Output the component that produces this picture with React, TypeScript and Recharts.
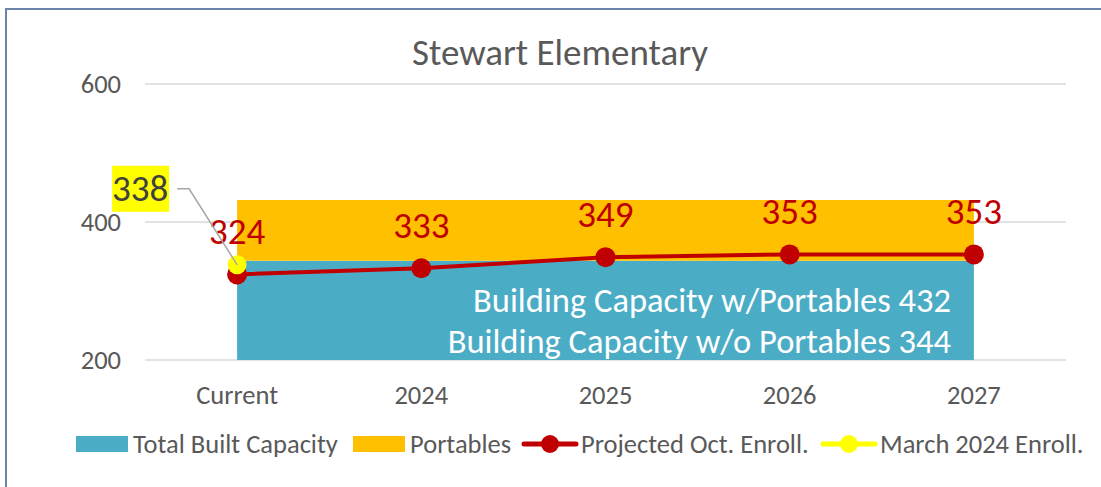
import React from 'react';
import { ComposedChart, Area, Line, XAxis, YAxis, CartesianGrid, LabelList } from 'recharts';

const categories = ['Current', '2024', '2025', '2026', '2027'];
const builtCapacity = [344, 344, 344, 344, 344];
const portables = [88, 88, 88, 88, 88];
const projectedEnroll = [324, 333, 349, 353, 353];
const marchEnroll: (number | null)[] = [338, null, null, null, null];
const yTicks = [200, 400, 600];

const title = 'Stewart Elementary';
const capacityNotes = ['Building Capacity w/Portables 432', 'Building Capacity w/o Portables 344'];

const FONT = "Carlito, Calibri, 'Liberation Sans', Arial, sans-serif";
const TEAL = '#4BACC6';
const GOLD = '#FFC000';
const RED = '#C00000';
const YELLOW = '#FFFF00';
const GRAY = '#595959';

const data = categories.map((c, i) => ({
  cat: c,
  built: builtCapacity[i],
  port: portables[i],
  proj: projectedEnroll[i],
  march: marchEnroll[i],
}));

const ProjLabel = (props: any) => {
  const { x, y, value } = props;
  if (value == null) return null;
  return (
    <text x={x} y={y - 43} textAnchor="middle" dominantBaseline="central" fill={RED} fontSize={37} fontFamily={FONT}>
      {value}
    </text>
  );
};

const MarchLabel = (props: any) => {
  const { x, y, value } = props;
  if (value == null) return null;
  const cx = x - 97;
  const cy = y - 76;
  return (
    <g>
      <polyline points={`${x - 60},${cy} ${x - 48},${cy} ${x},${y}`} fill="none" stroke="#A6A6A6" strokeWidth={1.5} />
      <rect x={x - 125} y={y - 99} width={57} height={46} fill={YELLOW} />
      <text x={cx} y={cy} textAnchor="middle" dominantBaseline="central" fill="#404040" fontSize={37} fontFamily={FONT}>
        {value}
      </text>
    </g>
  );
};

const legendItems = [
  { label: 'Total Built Capacity', type: 'rect', color: TEAL, left: 76 },
  { label: 'Portables', type: 'rect', color: GOLD, left: 353 },
  { label: 'Projected Oct. Enroll.', type: 'line', color: RED, left: 521 },
  { label: 'March 2024 Enroll.', type: 'line', color: YELLOW, left: 820 },
];

export default function App() {
  return (
    <div style={{ position: 'absolute', left: 0, top: 0, width: 1101, height: 487, background: '#fff', overflow: 'hidden', fontFamily: FONT }}>
      <div style={{ position: 'absolute', left: 5, top: 8, width: 1200, height: 600, borderLeft: '2px solid #6A84AA', borderTop: '2px solid #6A84AA' }} />
      <div style={{ position: 'absolute', left: 0, top: 0 }}>
        <ComposedChart width={1101} height={487} data={data} margin={{ top: 84, right: 35, left: 0, bottom: 97 }}>
          <CartesianGrid horizontal vertical={false} stroke="#D9D9D9" strokeWidth={1.5} />
          <XAxis dataKey="cat" scale="band" axisLine={false} tickLine={false} tickSize={0} tickMargin={25} height={30}
            tick={{ fill: GRAY, fontSize: 26.5, fontFamily: FONT }} />
          <YAxis domain={[200, 600]} ticks={yTicks} allowDataOverflow axisLine={false} tickLine={false} tickSize={0}
            tickMargin={24} width={145} tick={{ fill: GRAY, fontSize: 26.5, fontFamily: FONT }} />
          <Area dataKey="built" stackId="cap" type="linear" stroke="none" fill={TEAL} fillOpacity={1} isAnimationActive={false} />
          <Area dataKey="port" stackId="cap" type="linear" stroke="none" fill={GOLD} fillOpacity={1} isAnimationActive={false} />
          <Line dataKey="proj" type="linear" stroke={RED} strokeWidth={4} isAnimationActive={false}
            dot={{ r: 10, fill: RED, stroke: 'none' }} activeDot={false}>
            <LabelList dataKey="proj" content={ProjLabel} />
          </Line>
          <Line dataKey="march" type="linear" stroke={YELLOW} strokeWidth={4} isAnimationActive={false}
            dot={{ r: 9.5, fill: YELLOW, stroke: 'none' }} activeDot={false}>
            <LabelList dataKey="march" content={MarchLabel} />
          </Line>
        </ComposedChart>
      </div>
      <svg width={1101} height={487} style={{ position: 'absolute', left: 0, top: 0, pointerEvents: 'none' }}>
        <text x={560} y={52} textAnchor="middle" dominantBaseline="central" fill={GRAY} fontSize={37} fontFamily={FONT}>{title}</text>
        <text x={951} y={300} textAnchor="end" dominantBaseline="central" fill="#FFFFFF" fontSize={34.5} fontFamily={FONT}>{capacityNotes[0]}</text>
        <text x={951} y={341} textAnchor="end" dominantBaseline="central" fill="#FFFFFF" fontSize={34.5} fontFamily={FONT}>{capacityNotes[1]}</text>
      </svg>
      {legendItems.map((it) => (
        <div key={it.label} style={{ position: 'absolute', left: it.left, top: 429, height: 30, display: 'flex', alignItems: 'center', whiteSpace: 'nowrap' }}>
          {it.type === 'rect' ? (
            <div style={{ width: 52, height: 16, background: it.color, marginRight: 5 }} />
          ) : (
            <svg width={58} height={22} style={{ marginRight: 2 }}>
              <line x1={3} y1={11} x2={55} y2={11} stroke={it.color} strokeWidth={5} strokeLinecap="round" />
              <circle cx={29} cy={11} r={9} fill={it.color} />
            </svg>
          )}
          <span style={{ fontSize: 26.5, color: GRAY, lineHeight: '30px' }}>{it.label}</span>
        </div>
      ))}
    </div>
  );
}
